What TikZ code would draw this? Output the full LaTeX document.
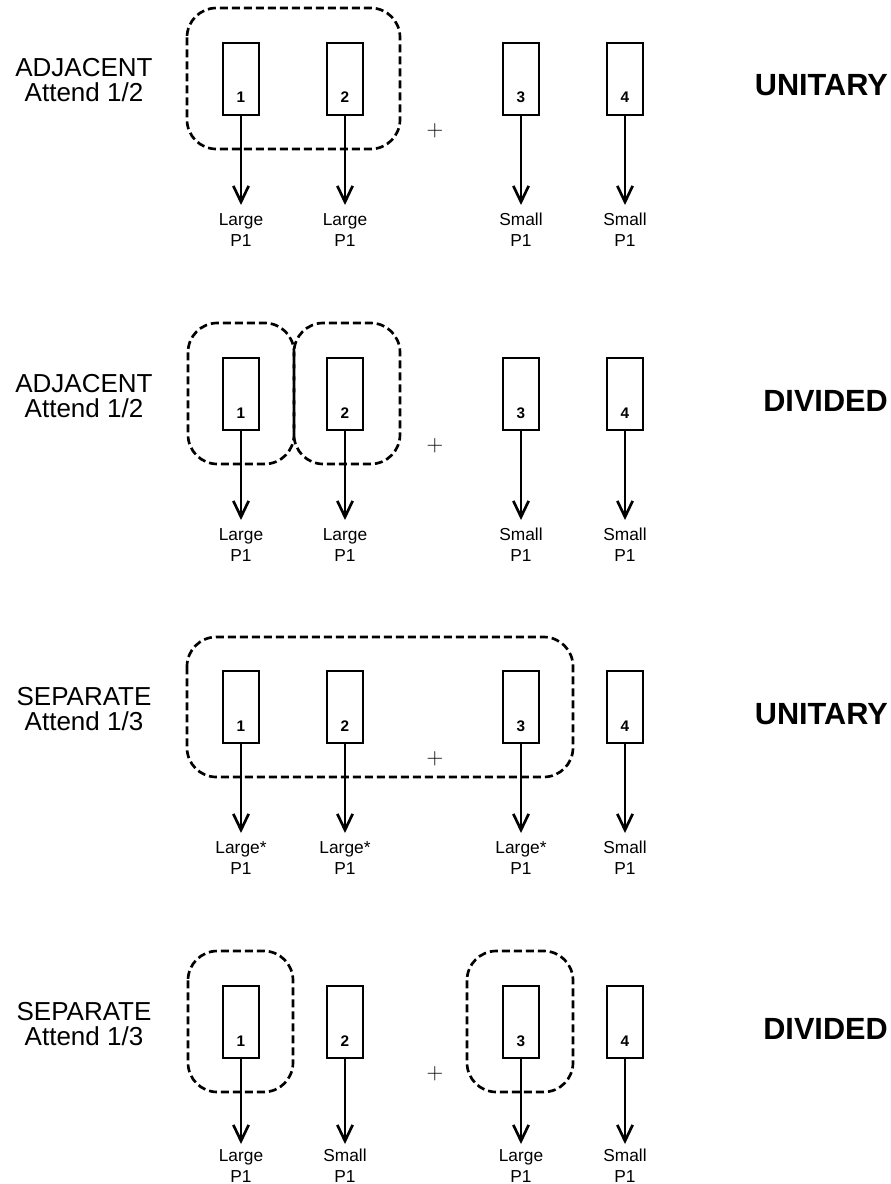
\documentclass[tikz,border=0pt]{standalone}
\usepackage{fontspec}
\setmainfont{Liberation Sans}
\usetikzlibrary{arrows.meta}

% one column: box, its number, the arrow and the two-line label below it
% #1 panel, #2 index, #3 x position, #4 size word
% \rt is the top of the boxes, \tip the arrow length below it, \lab the first label baseline
\newcommand{\drawcol}[4]{%
  \node[unit] (r#1-#2) at (#3,{\rt+36}) {};
  \node[digit] (d#1-#2) at (#3,{\rt+60}) {#2};
  \coordinate (t#1-#2) at (#3,{\rt+\tip});
  \draw[flow] (r#1-#2.south) -- (t#1-#2);
  \node[outlabel] (w#1-#2) at (#3,{\rt+\lab}) {#4};
  \node[outlabel] (p#1-#2) at (#3,{\rt+\lab+21}) {P1};
}
% left-hand condition label and right-hand mode label
\newcommand{\sidelabels}[4]{%
  \node[side] (a#1) at (84,{\rt+34}) {#2};
  \node[side] (b#1) at (84,{\rt+59}) {#3};
  \node[kind] (k#1) at (888,{\rt+53}) {#4};
  \node[plus] (plus#1) at (435,{\rt+88}) {$+$};
}

\begin{document}
\begin{tikzpicture}[x=0.75pt,y=-0.75pt,
  unit/.style={draw, line width=1.8pt, minimum width=27pt, minimum height=54pt, inner sep=0pt},
  digit/.style={font=\bfseries\fontsize{11.5}{13}\selectfont, anchor=base, inner sep=0pt},
  outlabel/.style={font=\fontsize{13}{15}\selectfont, anchor=base, inner sep=0pt},
  side/.style={font=\fontsize{19.5}{22}\selectfont, anchor=base, inner sep=0pt},
  kind/.style={font=\bfseries\fontsize{23}{26}\selectfont, anchor=base east, inner sep=0pt},
  plus/.style={font=\fontsize{17}{20}\selectfont, inner sep=0pt},
  flow/.style={line width=2pt, -{Straight Barb[length=12pt, width=11.5pt, line width=2pt]}},
  group/.style={line width=2pt, dash pattern=on 6pt off 3pt, rounded corners=22pt}
  ]
\useasboundingbox (0,0) rectangle (890,1184);

\def\tip{162}
\def\lab{182}

% ---- adjacent, unitary
\def\rt{43}
\draw[group] (187,{\rt-35}) rectangle (400,{\rt+106});
\drawcol{1}{1}{241}{Large}
\drawcol{1}{2}{345}{Large}
\drawcol{1}{3}{521}{Small}
\drawcol{1}{4}{625}{Small}
\sidelabels{1}{ADJACENT}{Attend 1/2}{UNITARY}

% ---- adjacent, divided
\def\rt{358}
\draw[group] (188,{\rt-35}) rectangle (294,{\rt+106});
\draw[group] (294,{\rt-35}) rectangle (400,{\rt+106});
\draw[line width=1.6pt] (294,{\rt-11}) -- (294,{\rt+77});
\drawcol{2}{1}{241}{Large}
\drawcol{2}{2}{345}{Large}
\drawcol{2}{3}{521}{Small}
\drawcol{2}{4}{625}{Small}
\sidelabels{2}{ADJACENT}{Attend 1/2}{DIVIDED}

% ---- separate, unitary
\def\rt{671}
\draw[group] (187,{\rt-34}) rectangle (573,{\rt+106});
\drawcol{3}{1}{241}{Large*}
\drawcol{3}{2}{345}{Large*}
\drawcol{3}{3}{521}{Large*}
\drawcol{3}{4}{625}{Small}
\sidelabels{3}{SEPARATE}{Attend 1/3}{UNITARY}

% ---- separate, divided
\def\rt{986}
\def\tip{158}
\def\lab{175}
\draw[group] (188,{\rt-35}) rectangle (293,{\rt+106});
\draw[group] (467,{\rt-35}) rectangle (573,{\rt+106});
\drawcol{4}{1}{241}{Large}
\drawcol{4}{2}{345}{Small}
\drawcol{4}{3}{521}{Large}
\drawcol{4}{4}{625}{Small}
\sidelabels{4}{SEPARATE}{Attend 1/3}{DIVIDED}
\end{tikzpicture}
\end{document}
